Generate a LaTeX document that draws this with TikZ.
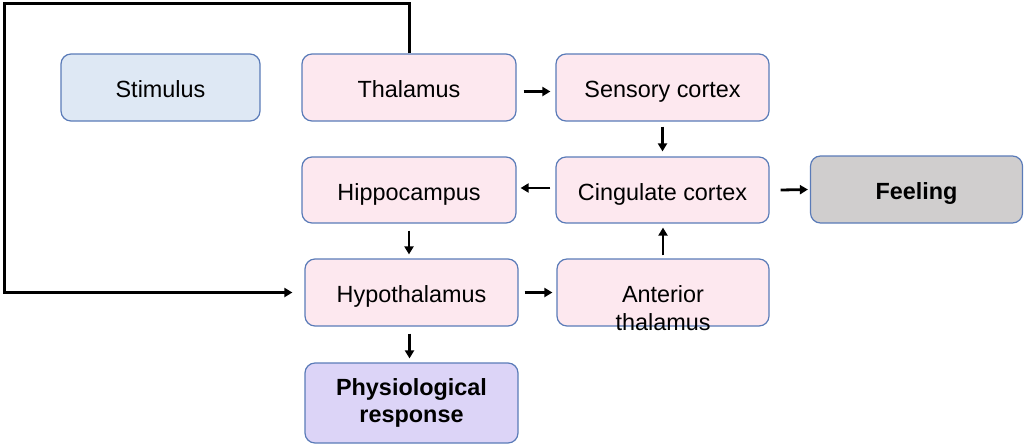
\documentclass[tikz,border=0pt]{standalone}
\usepackage{fontspec}
\setmainfont{Liberation Sans}
\usetikzlibrary{arrows.meta}
\definecolor{bordc}{HTML}{5A7BB8}
\definecolor{stimc}{HTML}{DEE8F4}
\definecolor{pinkc}{HTML}{FDE8EF}
\definecolor{feelc}{HTML}{D0CECE}
\definecolor{physc}{HTML}{DCD4F7}
\tikzset{
  box/.style={draw=bordc, line width=1.2pt, rounded corners=10pt, minimum height=67pt,
    inner sep=0pt, font=\fontsize{23.4}{28}\selectfont, align=center},
  onebox/.style={box, text height=20pt, text depth=0pt},
  pinkbox/.style={onebox, fill=pinkc},
  arr/.style={line width=2.8pt, -{Triangle[length=8pt,width=9pt]}},
  lbl/.style={font=\fontsize{23.4}{28}\selectfont, align=center, inner sep=0pt}
}
\begin{document}
\begin{tikzpicture}[x=1pt,y=-1pt]
\useasboundingbox (0,0) rectangle (1024,445);
\node[onebox, fill=stimc, minimum width=199pt] (stim) at (160.5,87.5) {Stimulus};
\node[pinkbox, minimum width=214pt] (thal) at (409,87.5) {Thalamus};
\node[pinkbox, minimum width=213pt] (sens) at (662.5,87.5) {Sensory cortex};
\node[pinkbox, minimum width=214pt, minimum height=66pt] (hipp) at (409,190) {Hippocampus};
\node[pinkbox, minimum width=213pt, minimum height=66pt] (cing) at (662.5,190) {Cingulate cortex};
\node[onebox, fill=feelc, minimum width=212pt, font=\fontsize{23.4}{28}\selectfont\bfseries] (feel) at (916.5,189.5) {Feeling};
\node[pinkbox, minimum width=213pt] (hypo) at (411.5,292.5) {Hypothalamus};
\node[pinkbox, minimum width=212pt] (ant) at (663,292.5) {};
\node[lbl] (antlbl) at ([yshift=-15.5pt]ant.center) {Anterior\\thalamus};
\node[box, fill=physc, minimum width=213pt, minimum height=80pt, font=\fontsize{23.4}{27}\selectfont\bfseries] (phys) at (411.5,403) {Physiological\\response};
\coordinate (tl) at (4,3);
\draw[arr] ([xshift=7pt,yshift=-4pt]thal.east) -- ([xshift=-5pt,yshift=-4pt]sens.west);
\draw[arr] ([yshift=-5pt]sens.south) -- ([yshift=5pt]cing.north);
\draw[arr] ([xshift=-5pt,yshift=2pt]cing.west) -- ([xshift=4pt,yshift=2pt]hipp.east);
\draw[arr] ([xshift=11pt]cing.east) -- ([xshift=-2pt]feel.west);
\draw[arr] ([yshift=-7pt]hipp.south) -- ([yshift=4pt]hypo.north -| hipp.south);
\draw[arr] ([xshift=6pt]hypo.east) -- ([xshift=-4pt]ant.west);
\draw[arr] ([xshift=-2pt,yshift=-7pt]hypo.south) -- ([xshift=-2pt,yshift=4pt]phys.north);
\draw[arr] ([yshift=3pt]ant.north) -- ([yshift=-4pt]cing.south -| ant.north);
\draw[line width=3pt, -{Triangle[length=8pt,width=9pt]}] (thal.north) |- (tl) |- ([xshift=-12pt]hypo.west);
\end{tikzpicture}
\end{document}
